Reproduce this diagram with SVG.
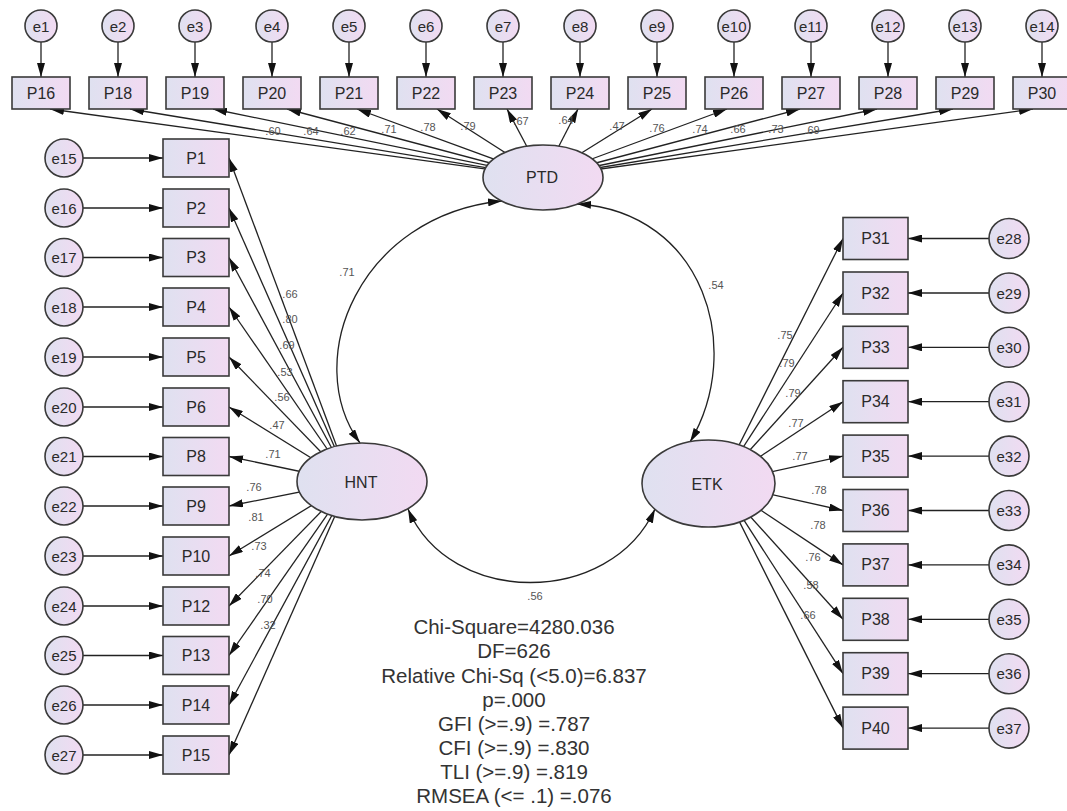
<svg xmlns="http://www.w3.org/2000/svg" width="1067" height="811" viewBox="0 0 1067 811">
<defs>
<linearGradient id="g" x1="0" y1="0" x2="1" y2="0">
<stop offset="0" stop-color="#dfe1f0"/>
<stop offset="1" stop-color="#f2daf2"/>
</linearGradient>
<marker id="ah" viewBox="0 0 14 8" refX="14" refY="4" markerWidth="14" markerHeight="8" markerUnits="userSpaceOnUse" orient="auto-start-reverse">
<path d="M0,0 L14,4 L0,8 z" fill="#111"/>
</marker>
</defs>
<style>
.box{fill:url(#g);stroke:#3a3a3a;stroke-width:1.6}
.lat{fill:url(#g);stroke:#3a3a3a;stroke-width:1.6}
.err{fill:url(#g);stroke:#3a3a3a;stroke-width:1.6}
.ln{stroke:#222;stroke-width:1.3;fill:none;marker-end:url(#ah)}
.cov{stroke:#222;stroke-width:1.3;fill:none;marker-end:url(#ah);marker-start:url(#ah)}
.t{font-family:"Liberation Sans",Arial,sans-serif;font-size:16px;fill:#2a2a2a;text-anchor:middle;dominant-baseline:central}
.te{font-family:"Liberation Sans",Arial,sans-serif;font-size:15px;fill:#2a2a2a;text-anchor:middle;dominant-baseline:central}
.c{font-family:"Liberation Sans",Arial,sans-serif;font-size:11px;fill:#555;text-anchor:middle;dominant-baseline:central}
.s{font-family:"Liberation Sans",Arial,sans-serif;font-size:20.5px;fill:#333;text-anchor:middle;dominant-baseline:central}
</style>
<rect width="1067" height="811" fill="#fff"/>

<g id="connectors">
<!-- PTD to top indicators -->
<line class="ln" x1="543" y1="177" x2="50" y2="109"/>
<line class="ln" x1="543" y1="177" x2="130" y2="109"/>
<line class="ln" x1="543" y1="177" x2="213" y2="109"/>
<line class="ln" x1="543" y1="177" x2="287" y2="109"/>
<line class="ln" x1="543" y1="177" x2="357" y2="109"/>
<line class="ln" x1="543" y1="177" x2="437" y2="109"/>
<line class="ln" x1="543" y1="177" x2="507" y2="109"/>
<line class="ln" x1="543" y1="177" x2="578" y2="109"/>
<line class="ln" x1="543" y1="177" x2="652" y2="109"/>
<line class="ln" x1="543" y1="177" x2="727" y2="109"/>
<line class="ln" x1="543" y1="177" x2="800" y2="109"/>
<line class="ln" x1="543" y1="177" x2="877" y2="109"/>
<line class="ln" x1="543" y1="177" x2="953" y2="109"/>
<line class="ln" x1="543" y1="177" x2="1033" y2="109"/>
<!-- top errors -->
<line class="ln" x1="41" y1="42" x2="41" y2="77"/>
<line class="ln" x1="118" y1="42" x2="118" y2="77"/>
<line class="ln" x1="195" y1="42" x2="195" y2="77"/>
<line class="ln" x1="272" y1="42" x2="272" y2="77"/>
<line class="ln" x1="349" y1="42" x2="349" y2="77"/>
<line class="ln" x1="426" y1="42" x2="426" y2="77"/>
<line class="ln" x1="503" y1="42" x2="503" y2="77"/>
<line class="ln" x1="580" y1="42" x2="580" y2="77"/>
<line class="ln" x1="657" y1="42" x2="657" y2="77"/>
<line class="ln" x1="734" y1="42" x2="734" y2="77"/>
<line class="ln" x1="811" y1="42" x2="811" y2="77"/>
<line class="ln" x1="888" y1="42" x2="888" y2="77"/>
<line class="ln" x1="965" y1="42" x2="965" y2="77"/>
<line class="ln" x1="1042" y1="42" x2="1042" y2="77"/>
<!-- HNT to left indicators -->
<line class="ln" x1="350" y1="482" x2="229" y2="158"/>
<line class="ln" x1="350" y1="482" x2="229" y2="208"/>
<line class="ln" x1="350" y1="482" x2="229" y2="257.5"/>
<line class="ln" x1="350" y1="482" x2="229" y2="307"/>
<line class="ln" x1="350" y1="482" x2="229" y2="357"/>
<line class="ln" x1="350" y1="482" x2="229" y2="407"/>
<line class="ln" x1="350" y1="482" x2="229" y2="456.5"/>
<line class="ln" x1="350" y1="482" x2="229" y2="506"/>
<line class="ln" x1="350" y1="482" x2="229" y2="556"/>
<line class="ln" x1="350" y1="482" x2="229" y2="606"/>
<line class="ln" x1="350" y1="482" x2="229" y2="655.5"/>
<line class="ln" x1="350" y1="482" x2="229" y2="705"/>
<line class="ln" x1="350" y1="482" x2="229" y2="755"/>
<!-- left errors -->
<line class="ln" x1="83" y1="158" x2="163" y2="158"/>
<line class="ln" x1="83" y1="208" x2="163" y2="208"/>
<line class="ln" x1="83" y1="257.5" x2="163" y2="257.5"/>
<line class="ln" x1="83" y1="307" x2="163" y2="307"/>
<line class="ln" x1="83" y1="357" x2="163" y2="357"/>
<line class="ln" x1="83" y1="407" x2="163" y2="407"/>
<line class="ln" x1="83" y1="456.5" x2="163" y2="456.5"/>
<line class="ln" x1="83" y1="506" x2="163" y2="506"/>
<line class="ln" x1="83" y1="556" x2="163" y2="556"/>
<line class="ln" x1="83" y1="606" x2="163" y2="606"/>
<line class="ln" x1="83" y1="655.5" x2="163" y2="655.5"/>
<line class="ln" x1="83" y1="705" x2="163" y2="705"/>
<line class="ln" x1="83" y1="755" x2="163" y2="755"/>
<!-- ETK to right indicators -->
<line class="ln" x1="720" y1="483" x2="843" y2="238.5"/>
<line class="ln" x1="720" y1="483" x2="843" y2="293"/>
<line class="ln" x1="720" y1="483" x2="843" y2="347.3"/>
<line class="ln" x1="720" y1="483" x2="843" y2="401.7"/>
<line class="ln" x1="720" y1="483" x2="843" y2="456.1"/>
<line class="ln" x1="720" y1="483" x2="843" y2="510.5"/>
<line class="ln" x1="720" y1="483" x2="843" y2="564.9"/>
<line class="ln" x1="720" y1="483" x2="843" y2="619.3"/>
<line class="ln" x1="720" y1="483" x2="843" y2="673.7"/>
<line class="ln" x1="720" y1="483" x2="843" y2="728.1"/>
<!-- right errors -->
<line class="ln" x1="989" y1="238.5" x2="908" y2="238.5"/>
<line class="ln" x1="989" y1="293" x2="908" y2="293"/>
<line class="ln" x1="989" y1="347.3" x2="908" y2="347.3"/>
<line class="ln" x1="989" y1="401.7" x2="908" y2="401.7"/>
<line class="ln" x1="989" y1="456.1" x2="908" y2="456.1"/>
<line class="ln" x1="989" y1="510.5" x2="908" y2="510.5"/>
<line class="ln" x1="989" y1="564.9" x2="908" y2="564.9"/>
<line class="ln" x1="989" y1="619.3" x2="908" y2="619.3"/>
<line class="ln" x1="989" y1="673.7" x2="908" y2="673.7"/>
<line class="ln" x1="989" y1="728.1" x2="908" y2="728.1"/>
<!-- covariances -->
<path class="cov" d="M502,201 C360,215 300,360 360,443"/>
<path class="cov" d="M577,204 C705,212 745,350 690,442"/>
<path class="cov" d="M408,509 C450,607 610,607 655,509"/>
</g>

<g id="PTD"><ellipse class="lat" cx="543" cy="177.5" rx="60" ry="32.5"/><text class="t" x="542" y="177">PTD</text></g>
<g id="HNT"><ellipse class="lat" cx="362" cy="481.5" rx="65" ry="38.5"/><text class="t" x="361" y="482">HNT</text></g>
<g id="ETK"><ellipse class="lat" cx="708.5" cy="483.5" rx="66.5" ry="43.5"/><text class="t" x="707" y="484">ETK</text></g>

<g id="top-indicators">
<g id="P16"><rect class="box" x="12" y="77" width="58" height="32"/><text class="t" x="41" y="93">P16</text></g>
<g id="P18"><rect class="box" x="89" y="77" width="58" height="32"/><text class="t" x="118" y="93">P18</text></g>
<g id="P19"><rect class="box" x="166" y="77" width="58" height="32"/><text class="t" x="195" y="93">P19</text></g>
<g id="P20"><rect class="box" x="243" y="77" width="58" height="32"/><text class="t" x="272" y="93">P20</text></g>
<g id="P21"><rect class="box" x="320" y="77" width="58" height="32"/><text class="t" x="349" y="93">P21</text></g>
<g id="P22"><rect class="box" x="397" y="77" width="58" height="32"/><text class="t" x="426" y="93">P22</text></g>
<g id="P23"><rect class="box" x="474" y="77" width="58" height="32"/><text class="t" x="503" y="93">P23</text></g>
<g id="P24"><rect class="box" x="551" y="77" width="58" height="32"/><text class="t" x="580" y="93">P24</text></g>
<g id="P25"><rect class="box" x="628" y="77" width="58" height="32"/><text class="t" x="657" y="93">P25</text></g>
<g id="P26"><rect class="box" x="705" y="77" width="58" height="32"/><text class="t" x="734" y="93">P26</text></g>
<g id="P27"><rect class="box" x="782" y="77" width="58" height="32"/><text class="t" x="811" y="93">P27</text></g>
<g id="P28"><rect class="box" x="859" y="77" width="58" height="32"/><text class="t" x="888" y="93">P28</text></g>
<g id="P29"><rect class="box" x="936" y="77" width="58" height="32"/><text class="t" x="965" y="93">P29</text></g>
<g id="P30"><rect class="box" x="1013" y="77" width="58" height="32"/><text class="t" x="1042" y="93">P30</text></g>
</g>

<g id="top-errors">
<g id="e1"><circle class="err" cx="41" cy="26" r="16"/><text class="te" x="41" y="26">e1</text></g>
<g id="e2"><circle class="err" cx="118" cy="26" r="16"/><text class="te" x="118" y="26">e2</text></g>
<g id="e3"><circle class="err" cx="195" cy="26" r="16"/><text class="te" x="195" y="26">e3</text></g>
<g id="e4"><circle class="err" cx="272" cy="26" r="16"/><text class="te" x="272" y="26">e4</text></g>
<g id="e5"><circle class="err" cx="349" cy="26" r="16"/><text class="te" x="349" y="26">e5</text></g>
<g id="e6"><circle class="err" cx="426" cy="26" r="16"/><text class="te" x="426" y="26">e6</text></g>
<g id="e7"><circle class="err" cx="503" cy="26" r="16"/><text class="te" x="503" y="26">e7</text></g>
<g id="e8"><circle class="err" cx="580" cy="26" r="16"/><text class="te" x="580" y="26">e8</text></g>
<g id="e9"><circle class="err" cx="657" cy="26" r="16"/><text class="te" x="657" y="26">e9</text></g>
<g id="e10"><circle class="err" cx="734" cy="26" r="16"/><text class="te" x="734" y="26">e10</text></g>
<g id="e11"><circle class="err" cx="811" cy="26" r="16"/><text class="te" x="811" y="26">e11</text></g>
<g id="e12"><circle class="err" cx="888" cy="26" r="16"/><text class="te" x="888" y="26">e12</text></g>
<g id="e13"><circle class="err" cx="965" cy="26" r="16"/><text class="te" x="965" y="26">e13</text></g>
<g id="e14"><circle class="err" cx="1042" cy="26" r="16"/><text class="te" x="1042" y="26">e14</text></g>
</g>

<g id="left-indicators">
<g id="P1"><rect class="box" x="163" y="139" width="66" height="38"/><text class="t" x="196" y="158">P1</text></g>
<g id="P2"><rect class="box" x="163" y="189" width="66" height="38"/><text class="t" x="196" y="208">P2</text></g>
<g id="P3"><rect class="box" x="163" y="238.5" width="66" height="38"/><text class="t" x="196" y="257.5">P3</text></g>
<g id="P4"><rect class="box" x="163" y="288" width="66" height="38"/><text class="t" x="196" y="307">P4</text></g>
<g id="P5"><rect class="box" x="163" y="338" width="66" height="38"/><text class="t" x="196" y="357">P5</text></g>
<g id="P6"><rect class="box" x="163" y="388" width="66" height="38"/><text class="t" x="196" y="407">P6</text></g>
<g id="P8"><rect class="box" x="163" y="437.5" width="66" height="38"/><text class="t" x="196" y="456.5">P8</text></g>
<g id="P9"><rect class="box" x="163" y="487" width="66" height="38"/><text class="t" x="196" y="506">P9</text></g>
<g id="P10"><rect class="box" x="163" y="537" width="66" height="38"/><text class="t" x="196" y="556">P10</text></g>
<g id="P12"><rect class="box" x="163" y="587" width="66" height="38"/><text class="t" x="196" y="606">P12</text></g>
<g id="P13"><rect class="box" x="163" y="636.5" width="66" height="38"/><text class="t" x="196" y="655.5">P13</text></g>
<g id="P14"><rect class="box" x="163" y="686" width="66" height="38"/><text class="t" x="196" y="705">P14</text></g>
<g id="P15"><rect class="box" x="163" y="736" width="66" height="38"/><text class="t" x="196" y="755">P15</text></g>
</g>

<g id="left-errors">
<g id="e15"><circle class="err" cx="64" cy="158" r="19"/><text class="te" x="64" y="158">e15</text></g>
<g id="e16"><circle class="err" cx="64" cy="208" r="19"/><text class="te" x="64" y="208">e16</text></g>
<g id="e17"><circle class="err" cx="64" cy="257.5" r="19"/><text class="te" x="64" y="257.5">e17</text></g>
<g id="e18"><circle class="err" cx="64" cy="307" r="19"/><text class="te" x="64" y="307">e18</text></g>
<g id="e19"><circle class="err" cx="64" cy="357" r="19"/><text class="te" x="64" y="357">e19</text></g>
<g id="e20"><circle class="err" cx="64" cy="407" r="19"/><text class="te" x="64" y="407">e20</text></g>
<g id="e21"><circle class="err" cx="64" cy="456.5" r="19"/><text class="te" x="64" y="456.5">e21</text></g>
<g id="e22"><circle class="err" cx="64" cy="506" r="19"/><text class="te" x="64" y="506">e22</text></g>
<g id="e23"><circle class="err" cx="64" cy="556" r="19"/><text class="te" x="64" y="556">e23</text></g>
<g id="e24"><circle class="err" cx="64" cy="606" r="19"/><text class="te" x="64" y="606">e24</text></g>
<g id="e25"><circle class="err" cx="64" cy="655.5" r="19"/><text class="te" x="64" y="655.5">e25</text></g>
<g id="e26"><circle class="err" cx="64" cy="705" r="19"/><text class="te" x="64" y="705">e26</text></g>
<g id="e27"><circle class="err" cx="64" cy="755" r="19"/><text class="te" x="64" y="755">e27</text></g>
</g>

<g id="right-indicators">
<g id="P31"><rect class="box" x="843" y="217.5" width="65" height="42"/><text class="t" x="875.5" y="238.5">P31</text></g>
<g id="P32"><rect class="box" x="843" y="272" width="65" height="42"/><text class="t" x="875.5" y="293">P32</text></g>
<g id="P33"><rect class="box" x="843" y="326.3" width="65" height="42"/><text class="t" x="875.5" y="347.3">P33</text></g>
<g id="P34"><rect class="box" x="843" y="380.7" width="65" height="42"/><text class="t" x="875.5" y="401.7">P34</text></g>
<g id="P35"><rect class="box" x="843" y="435.1" width="65" height="42"/><text class="t" x="875.5" y="456.1">P35</text></g>
<g id="P36"><rect class="box" x="843" y="489.5" width="65" height="42"/><text class="t" x="875.5" y="510.5">P36</text></g>
<g id="P37"><rect class="box" x="843" y="543.9" width="65" height="42"/><text class="t" x="875.5" y="564.9">P37</text></g>
<g id="P38"><rect class="box" x="843" y="598.3" width="65" height="42"/><text class="t" x="875.5" y="619.3">P38</text></g>
<g id="P39"><rect class="box" x="843" y="652.7" width="65" height="42"/><text class="t" x="875.5" y="673.7">P39</text></g>
<g id="P40"><rect class="box" x="843" y="707.1" width="65" height="42"/><text class="t" x="875.5" y="728.1">P40</text></g>
</g>

<g id="right-errors">
<g id="e28"><circle class="err" cx="1009" cy="238.5" r="20"/><text class="te" x="1009" y="238.5">e28</text></g>
<g id="e29"><circle class="err" cx="1009" cy="293" r="20"/><text class="te" x="1009" y="293">e29</text></g>
<g id="e30"><circle class="err" cx="1009" cy="347.3" r="20"/><text class="te" x="1009" y="347.3">e30</text></g>
<g id="e31"><circle class="err" cx="1009" cy="401.7" r="20"/><text class="te" x="1009" y="401.7">e31</text></g>
<g id="e32"><circle class="err" cx="1009" cy="456.1" r="20"/><text class="te" x="1009" y="456.1">e32</text></g>
<g id="e33"><circle class="err" cx="1009" cy="510.5" r="20"/><text class="te" x="1009" y="510.5">e33</text></g>
<g id="e34"><circle class="err" cx="1009" cy="564.9" r="20"/><text class="te" x="1009" y="564.9">e34</text></g>
<g id="e35"><circle class="err" cx="1009" cy="619.3" r="20"/><text class="te" x="1009" y="619.3">e35</text></g>
<g id="e36"><circle class="err" cx="1009" cy="673.7" r="20"/><text class="te" x="1009" y="673.7">e36</text></g>
<g id="e37"><circle class="err" cx="1009" cy="728.1" r="20"/><text class="te" x="1009" y="728.1">e37</text></g>
</g>

<g id="coefficients">
<text class="c" x="273" y="131">.60</text>
<text class="c" x="311" y="131">.64</text>
<text class="c" x="348" y="131">.62</text>
<text class="c" x="389" y="129">.71</text>
<text class="c" x="428" y="127">.78</text>
<text class="c" x="468" y="126">.79</text>
<text class="c" x="521" y="121">.67</text>
<text class="c" x="566" y="120">.64</text>
<text class="c" x="617" y="126">.47</text>
<text class="c" x="657" y="128">.76</text>
<text class="c" x="700" y="129">.74</text>
<text class="c" x="738" y="129">.66</text>
<text class="c" x="776" y="129">.73</text>
<text class="c" x="812" y="130">.69</text>
<text class="c" x="290" y="294">.66</text>
<text class="c" x="290" y="319">.80</text>
<text class="c" x="287" y="345">.69</text>
<text class="c" x="285" y="372">.53</text>
<text class="c" x="282" y="397">.56</text>
<text class="c" x="277" y="425">.47</text>
<text class="c" x="273" y="454">.71</text>
<text class="c" x="254" y="487">.76</text>
<text class="c" x="256" y="517">.81</text>
<text class="c" x="259" y="546">.73</text>
<text class="c" x="263" y="573">.74</text>
<text class="c" x="265" y="599">.70</text>
<text class="c" x="268" y="625">.32</text>
<text class="c" x="785" y="335">.75</text>
<text class="c" x="787" y="363">.79</text>
<text class="c" x="793" y="393">.79</text>
<text class="c" x="796" y="423">.77</text>
<text class="c" x="800" y="456">.77</text>
<text class="c" x="819" y="490">.78</text>
<text class="c" x="818" y="525">.78</text>
<text class="c" x="813" y="557">.76</text>
<text class="c" x="811" y="585">.58</text>
<text class="c" x="808" y="615">.66</text>
<text class="c" x="347" y="272">.71</text>
<text class="c" x="716" y="285">.54</text>
<text class="c" x="535" y="596">.56</text>
</g>

<g id="fit-statistics">
<text class="s" x="514" y="626">Chi-Square=4280.036</text>
<text class="s" x="514" y="650">DF=626</text>
<text class="s" x="514" y="675">Relative Chi-Sq (&lt;5.0)=6.837</text>
<text class="s" x="514" y="699">p=.000</text>
<text class="s" x="514" y="723">GFI (&gt;=.9) =.787</text>
<text class="s" x="514" y="747">CFI (&gt;=.9) =.830</text>
<text class="s" x="514" y="771">TLI (&gt;=.9) =.819</text>
<text class="s" x="514" y="795">RMSEA (&lt;= .1) =.076</text>
</g>
</svg>
